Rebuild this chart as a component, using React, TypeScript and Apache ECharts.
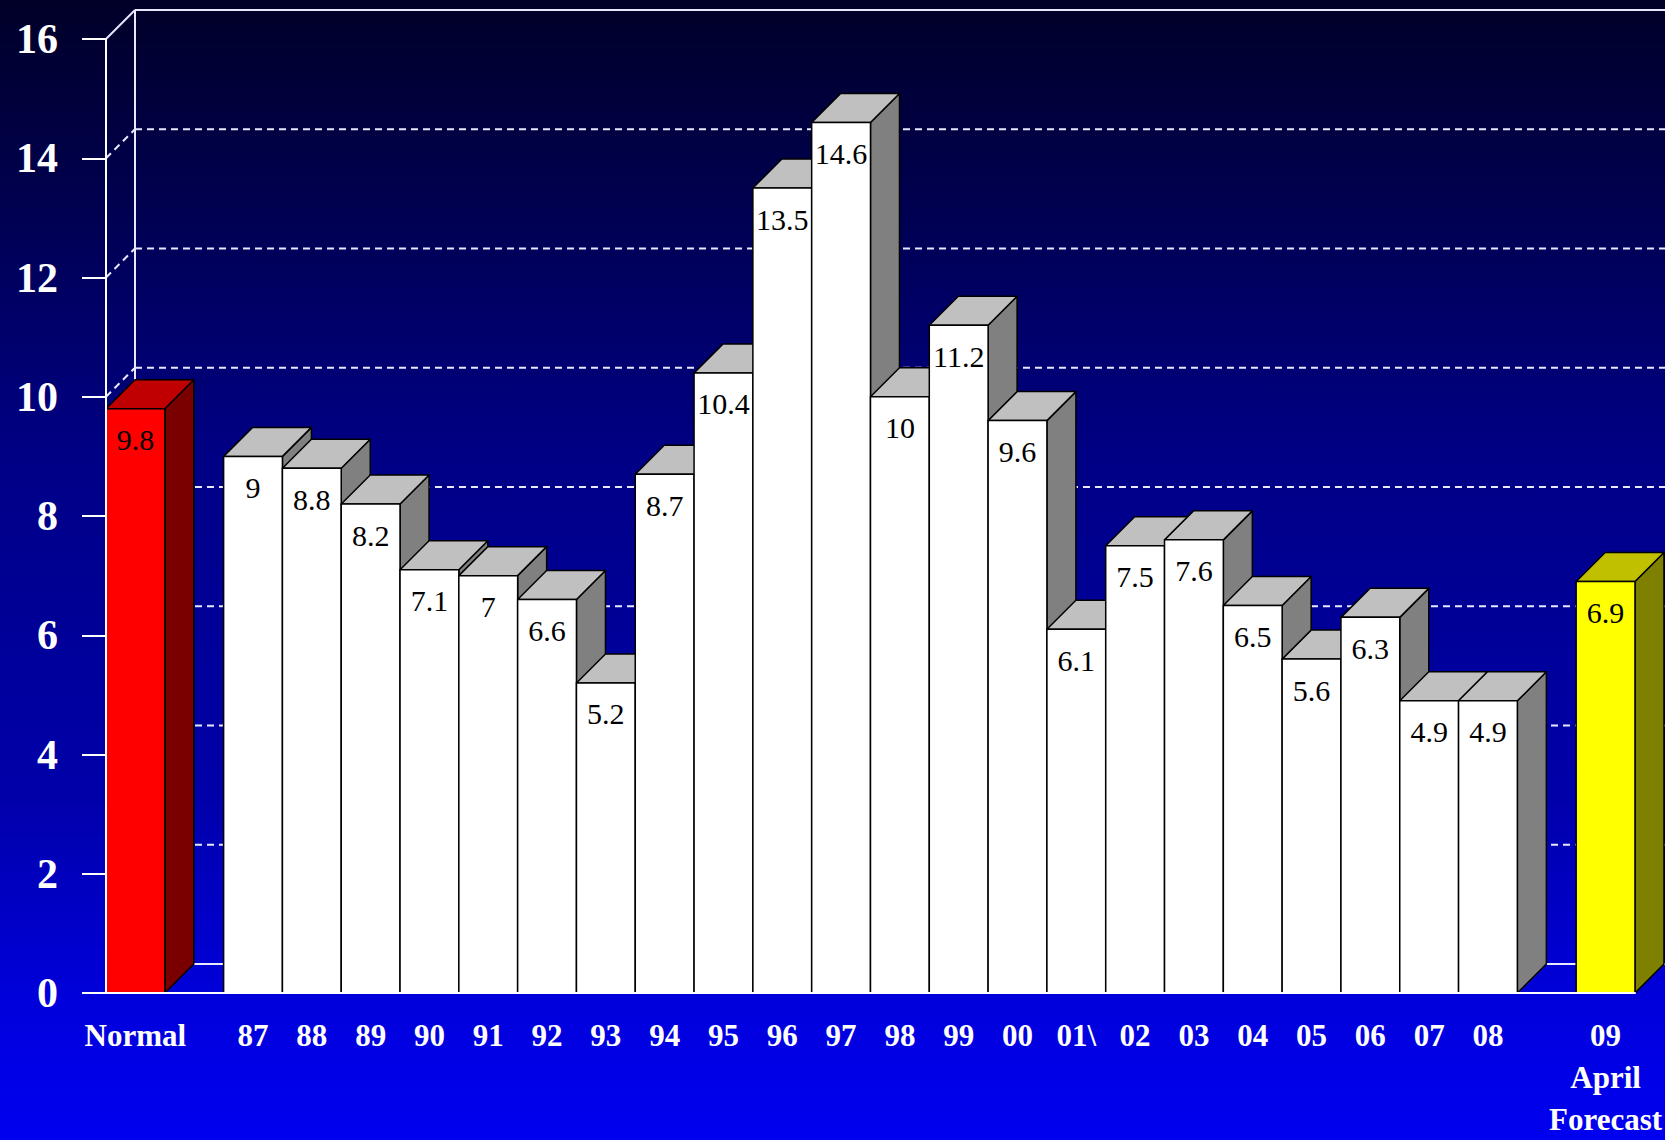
import React, { useEffect, useRef } from "react";
import * as echarts from "echarts";

// Long-term normal, seasonal values 1987–2008 and the April forecast for 2009
const normalLabel = "Normal";
const normalValue = 9.8;
const seasonLabels = [
  "87", "88", "89", "90", "91", "92", "93", "94", "95", "96", "97",
  "98", "99", "00", "01\\", "02", "03", "04", "05", "06", "07", "08",
];
const seasonValues = [
  9, 8.8, 8.2, 7.1, 7, 6.6, 5.2, 8.7, 10.4, 13.5, 14.6,
  10, 11.2, 9.6, 6.1, 7.5, 7.6, 6.5, 5.6, 6.3, 4.9, 4.9,
];
const forecastLabel = "09\nApril\nForecast";
const forecastValue = 6.9;
const yTicks = [0, 2, 4, 6, 8, 10, 12, 14, 16];

// Category slots: normal, spacer, seasons, spacer, forecast
const categories = [normalLabel, "", ...seasonLabels, "", forecastLabel];
const barData = [
  [0, normalValue, 0],
  ...seasonValues.map((v, i) => [i + 2, v, 1]),
  [seasonLabels.length + 3, forecastValue, 2],
];

// Face colours for each bar kind: front, top, side
const FACES = [
  { front: "#ff0000", top: "#c00000", side: "#7a0000" },
  { front: "#ffffff", top: "#c0c0c0", side: "#808080" },
  { front: "#ffff00", top: "#c0c000", side: "#808000" },
];

// Pseudo-3D depth offset
const DX = 29;
const DY = -29;

const SERIF = '"Liberation Serif", "Times New Roman", serif';

export default function App() {
  const ref = useRef<HTMLDivElement>(null);

  useEffect(() => {
    if (!ref.current) return;
    const chart = echarts.init(ref.current, undefined, { renderer: "svg" });

    const edgeStroke = { stroke: "#000000", lineWidth: 1.5, lineJoin: "round" };

    chart.setOption({
      animation: false,
      backgroundColor: {
        type: "linear",
        x: 0,
        y: 0,
        x2: 0,
        y2: 1,
        colorStops: [
          { offset: 0, color: "#000028" },
          { offset: 0.18, color: "#000050" },
          { offset: 0.4, color: "#000085" },
          { offset: 0.7, color: "#0000aa" },
          { offset: 0.88, color: "#0000dc" },
          { offset: 1, color: "#0000f0" },
        ],
      },
      grid: { left: 106, right: 25, top: 39, bottom: 145 },
      xAxis: {
        type: "category",
        data: categories,
        boundaryGap: true,
        z: 5,
        axisLine: { show: true, lineStyle: { color: "#ffffff", width: 2 } },
        axisTick: { show: false },
        splitLine: { show: false },
        axisLabel: {
          interval: 0,
          color: "#ffffff",
          fontFamily: SERIF,
          fontWeight: "bold",
          fontSize: 31,
          lineHeight: 42,
          margin: 21,
        },
      },
      yAxis: {
        type: "value",
        min: 0,
        max: 16,
        interval: 2,
        z: 5,
        axisLine: { show: true, lineStyle: { color: "#ffffff", width: 2 } },
        axisTick: { show: true, length: 24, lineStyle: { color: "#ffffff", width: 2 } },
        splitLine: { show: false },
        axisLabel: {
          color: "#ffffff",
          fontFamily: SERIF,
          fontWeight: "bold",
          fontSize: 42,
          margin: 48,
        },
      },
      series: [
        {
          // back wall: grid lines, depth connectors and wall edge
          type: "custom",
          z: 1,
          silent: true,
          clip: false,
          data: yTicks.map((v) => [0, v]),
          renderItem: (params: any, api: any) => {
            const cs = params.coordSys;
            const x0 = cs.x;
            const x1 = cs.x + cs.width;
            const v = api.value(1);
            const y = api.coord([0, v])[1];
            const edge = v === yTicks[0] || v === yTicks[yTicks.length - 1];
            const style: any = { stroke: "#e8e8ff", lineWidth: 2 };
            if (!edge) style.lineDash = [7, 5];
            const children: any[] = [
              {
                type: "line",
                shape: { x1: x0 + DX, y1: y + DY, x2: x1 + DX + 40, y2: y + DY },
                style,
              },
              {
                type: "line",
                shape: { x1: x0, y1: y, x2: x0 + DX, y2: y + DY },
                style,
              },
            ];
            if (params.dataIndex === 0) {
              const yTop = api.coord([0, yTicks[yTicks.length - 1]])[1];
              children.push({
                type: "line",
                shape: { x1: x0 + DX, y1: y + DY, x2: x0 + DX, y2: yTop + DY },
                style: { stroke: "#e8e8ff", lineWidth: 2 },
              });
            }
            return { type: "group", children };
          },
        },
        {
          // 3D bars with value labels
          type: "custom",
          z: 2,
          silent: true,
          clip: false,
          data: barData,
          renderItem: (params: any, api: any) => {
            const xi = api.value(0);
            const v = api.value(1);
            const kind = api.value(2);
            const [cx, ty] = api.coord([xi, v]);
            const by = api.coord([xi, 0])[1];
            const w = api.size([1, 0])[0];
            const l = cx - w / 2;
            const r = cx + w / 2;
            const c = FACES[kind];
            const z = params.dataIndex * 10;
            return {
              type: "group",
              children: [
                {
                  type: "polygon",
                  z2: z,
                  shape: { points: [[r, ty], [r + DX, ty + DY], [r + DX, by + DY], [r, by]] },
                  style: { fill: c.side, ...edgeStroke },
                },
                {
                  type: "polygon",
                  z2: z + 1,
                  shape: { points: [[l, ty], [r, ty], [r + DX, ty + DY], [l + DX, ty + DY]] },
                  style: { fill: c.top, ...edgeStroke },
                },
                {
                  type: "rect",
                  z2: z + 2,
                  shape: { x: l, y: ty, width: w, height: by - ty },
                  style: { fill: c.front, ...edgeStroke },
                },
                {
                  type: "text",
                  z2: z + 3,
                  x: cx,
                  y: ty + 31,
                  style: {
                    text: String(v),
                    fill: "#000000",
                    fontFamily: SERIF,
                    fontSize: 30,
                    align: "center",
                    verticalAlign: "middle",
                  },
                },
              ],
            };
          },
        },
      ],
    });

    return () => chart.dispose();
  }, []);

  return (
    <div
      ref={ref}
      style={{ position: "fixed", left: 0, top: 0, width: 1665, height: 1140 }}
    />
  );
}
